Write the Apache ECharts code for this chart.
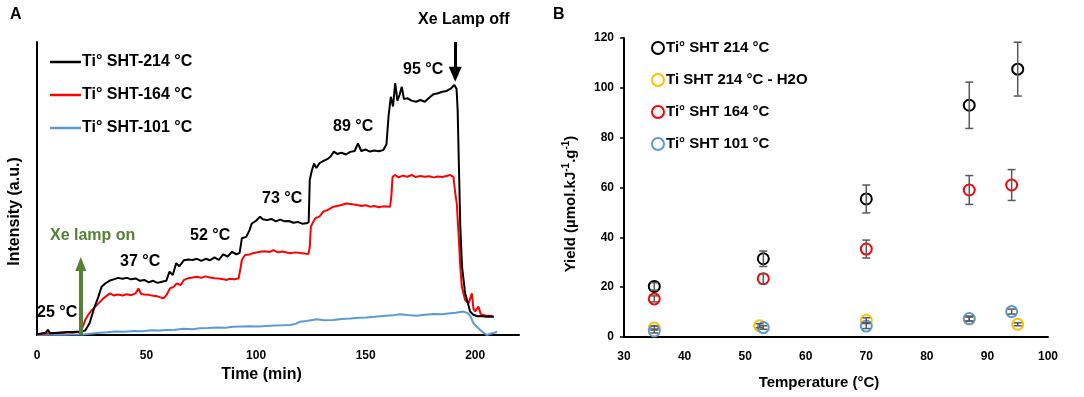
<!DOCTYPE html>
<html>
<head>
<meta charset="utf-8">
<script src="https://cdn.jsdelivr.net/npm/echarts@6.0.0/dist/echarts.min.js"></script>
<style>
html,body{margin:0;padding:0;background:#fff;}
#chart{width:1084px;height:397px;}
</style>
</head>
<body>
<div id="chart"></div>
<script>
// ---------- Panel A: intensity vs time ----------
const timeBlack = [0,2,4,5,6,8,10,12,14,16,18,20,22,24,26,28,29.5,31,33,35,37,39,41,43,45,47,49,51,53,55,57,59,60.5,62,63.5,65,67,69,71,73,75,77,79,81,83,85,87,89,91,92.5,93.5,95.5,97,98,100,101.8,103,105,107,109,111,113,115,117,119,121,123,124,124.5,125.5,126.5,127.5,129,131,132.5,134,135.5,137,139,141,143,145,146.5,148,150,152,154,156,158,159.5,160.5,161.5,162.5,163.5,164.5,165.5,166.5,167.5,169,171,173,175,177,179,181,183,185,187,189,190.5,191.5,192,192.5,193.2,194,195.4,197.7,199,201,203,205,207,208.5];
const intBlack = [0.3,0.5,0.8,1.8,0.6,0.7,0.8,0.9,1.0,1.0,1.1,1.2,1.5,4,9,13,16.5,17.5,18.5,19,19.5,19.2,19.5,19,19.3,18.5,18.8,18,18.5,17.8,18.2,18.5,21.6,20.5,24.5,23.5,25.5,25.8,25.6,26,25.3,26,25.5,26.5,25.6,27.5,26.8,28.4,27.5,28,33,33.5,35.8,38,39,40.4,39.5,39.2,39.6,38.8,39.4,38.8,38.9,38.3,38.6,38,38.1,38.5,52.9,56.3,58.5,57,58.7,59.5,60,60.9,62.6,61.8,62.2,61.6,62.5,62.8,65.4,62.8,63.3,62.6,63,62.7,63.1,65,75,81.3,78,86,80,82,84.7,80.5,80.8,80,79.6,80.2,79.6,81,82.2,82.5,83,83.3,84.2,85.3,84,76.8,60,37,23.3,14.3,8,7,6.4,6.5,6.2,6.3,6.2];

const timeRed = [0,2,4,6,8,10,12,14,16,18,19.6,21,22,23.5,25,27.3,30.3,33.3,35,37,39,41,43,45,46.3,47.5,49,51,53,55,57.7,59,60.7,62.5,63.8,65.5,67,69,71,73,75,77,79,81,83,85,86.6,88,90,92,92.7,93.5,95,97,99,101.8,104,106,107.9,110,112,115.5,118,121,123.9,124.5,125,126,127,129,130.7,133,135.3,138,141.4,144,146,148,150,152,154,156,158,161.2,161.8,162.3,163.5,165,167,169,171,173,175,177,179,181,183,185,188.6,190.1,190.9,191.6,192.4,193.2,193.9,195.4,197,198.5,199.2,200,201.5,202.5,203.8,205.5,207,208.4];
const intRed = [0.2,0.4,0.5,0.7,0.6,0.8,0.7,0.9,0.8,1.0,1.1,3,5.1,7,8.5,10.2,12.5,14.2,13.5,13.8,13.5,13.9,13.6,14.2,15.9,14,13.8,13.7,13.4,13.2,12.5,13.5,15.9,16.5,17.6,17,18.7,19.4,19.6,19.9,19.5,20,19.6,19.4,19.3,19,18.8,19.2,19,19.3,22,25.6,27.3,27.5,28,28.4,28.6,28.3,29,28.2,28.5,27.9,28.2,27.9,27.6,30,37,38.5,39.8,40.5,42.1,42.8,43.8,44.2,44.9,44.6,44.4,44,44.3,43.8,44,43.6,43.9,43.8,48,54,54.6,53.8,54.4,54,54.6,53.9,54.3,54,54.2,53.8,54.1,53.9,54.6,54,48.4,44.9,34.7,23.3,16.5,11.9,10.8,14.2,9,8,9.7,7.2,6.8,6.5,6.6,6.2];

const timeBlue = [0,4,8,12,16,21,25,28.8,32,36,40,44,48,52,56,59,63,67,71,74.4,78,82,86,89.6,93,97,101,104.9,108,112,115.5,118,120,123,127.7,131,135.2,139,143,147,150.5,154,158,162,165.8,169,173.4,177,181,185,188.6,191,194.7,196.8,198,199.2,200.8,202.3,203.8,205.3,206.8,208.5,210];
const intBlue = [0,0.1,0.2,0.1,0.2,0.2,0.5,0.8,0.9,1.2,1.1,1.4,1.3,1.6,1.5,1.7,1.8,2.1,2.0,2.3,2.4,2.6,2.5,2.8,2.9,3.0,2.9,3.1,3.2,3.3,3.4,3.8,4.5,4.8,5.4,5.0,5.1,5.5,5.6,5.9,6.0,6.2,6.5,6.7,7.1,6.8,6.6,6.9,7.2,7.1,7.4,7.6,8.0,7.4,6.2,4.0,2.8,1.7,0.8,0.0,0.4,0.7,1.1];

const timeTicksA = [0, 50, 100, 150, 200];
const stepLabels = ['25 °C', '37 °C', '52 °C', '73 °C', '89 °C', '95 °C'];

// ---------- Panel B: yield vs temperature ----------
const tempBlack = [35, 53, 70, 87, 95];
const yieldBlack = [20.3, 31.4, 55.4, 93, 107.5];
const errBlack = [1.5, 3.1, 5.6, 9.3, 10.8];

const tempYellow = [35, 52.4, 70, 87, 95];
const yieldYellow = [3.6, 4.5, 6.7, 7.2, 5.1];
const errYellow = [0.8, 0.8, 1.0, 0.8, 0.6];

const tempRed = [35, 53, 70, 87, 94];
const yieldRed = [15.3, 23.4, 35.3, 59, 61];
const errRed = [1.2, 2.0, 3.6, 5.8, 6.2];

const tempBlue = [35, 53, 70, 87, 94];
const yieldBlue = [2.4, 3.8, 4.4, 7.4, 10.2];
const errBlue = [0.8, 0.7, 1.0, 1.0, 1.0];

const FONT = 'Liberation Sans';

function zip(xs, ys) { return xs.map((x, i) => [x, ys[i]]); }
function errData(xs, ys, es) { return xs.map((x, i) => [x, ys[i] - es[i], ys[i] + es[i]]); }

const chart = echarts.init(document.getElementById('chart'), null, {renderer: 'canvas'});

function errSeries(xs, ys, es) {
  return {
    type: 'custom',
    xAxisIndex: 1, yAxisIndex: 1,
    z: 5,
    silent: true,
    encode: {x: 0, y: [1, 2]},
    data: errData(xs, ys, es),
    renderItem: function (params, api) {
      const x = api.value(0);
      const lo = api.coord([x, api.value(1)]);
      const hi = api.coord([x, api.value(2)]);
      const cap = 4;
      const st = {stroke: '#595959', lineWidth: 1.5};
      return {
        type: 'group',
        children: [
          {type: 'line', shape: {x1: lo[0], y1: lo[1], x2: hi[0], y2: hi[1]}, style: st},
          {type: 'line', shape: {x1: lo[0] - cap, y1: lo[1], x2: lo[0] + cap, y2: lo[1]}, style: st},
          {type: 'line', shape: {x1: hi[0] - cap, y1: hi[1], x2: hi[0] + cap, y2: hi[1]}, style: st}
        ]
      };
    }
  };
}

function scatterSeries(name, color, xs, ys) {
  return {
    name: name,
    type: 'scatter',
    xAxisIndex: 1, yAxisIndex: 1,
    symbol: 'emptyCircle',
    symbolSize: 11,
    z: 3,
    itemStyle: {color: color, borderColor: color, borderWidth: 2.5, opacity: 1},
    data: zip(xs, ys)
  };
}

const textEl = (txt, x, y, color) => ({
  type: 'text', x: x, y: y, silent: true,
  style: {text: txt, fill: color || '#000', font: 'bold 16px "' + FONT + '"',
          textAlign: 'left', textVerticalAlign: 'middle', align: 'left', verticalAlign: 'middle'}
});

const option = {
  animation: false,
  backgroundColor: '#fff',
  textStyle: {fontFamily: FONT},
  grid: [
    {left: 37, right: 565, top: 42, bottom: 62},
    {left: 624, right: 36, top: 38, bottom: 60}
  ],
  legend: [
    {
      left: 50, top: 54, orient: 'vertical', padding: 0,
      icon: 'rect',
      itemWidth: 31, itemHeight: 2.5, itemGap: 17,
      selectedMode: false,
      textStyle: {fontFamily: FONT, fontWeight: 'bold', fontSize: 16, color: '#000', lineHeight: 16, padding: [0, 0, 0, -4]},
      data: ['Ti° SHT-214 °C', 'Ti° SHT-164 °C', 'Ti° SHT-101 °C']
    },
    {
      left: 651, top: 40, orient: 'vertical', padding: 0,
      itemWidth: 12, itemHeight: 12, itemGap: 16,
      selectedMode: false,
      itemStyle: {borderWidth: 2.5, opacity: 1},
      textStyle: {fontFamily: FONT, fontWeight: 'bold', fontSize: 15, color: '#000', lineHeight: 16, padding: [0, 0, 0, -3]},
      data: ['Ti° SHT 214 °C', 'Ti SHT 214 °C - H2O', 'Ti° SHT 164 °C', 'Ti° SHT 101 °C']
    }
  ],
  xAxis: [
    {
      type: 'value', gridIndex: 0, min: 0, max: 220, interval: 50,
      name: 'Time (min)', nameLocation: 'middle', nameGap: 32,
      nameTextStyle: {fontFamily: FONT, fontWeight: 'bold', fontSize: 16, color: '#000', padding: [0, 33, 0, 0]},
      axisLine: {lineStyle: {color: '#000', width: 2}},
      axisTick: {show: false},
      splitLine: {show: false},
      axisLabel: {
        margin: 15, color: '#000', fontWeight: 'bold', fontSize: 12, fontFamily: FONT,
        formatter: v => (timeTicksA.indexOf(v) >= 0 ? String(v) : '')
      }
    },
    {
      type: 'value', gridIndex: 1, min: 30, max: 100, interval: 10,
      name: 'Temperature (°C)', nameLocation: 'middle', nameGap: 38,
      nameTextStyle: {fontFamily: FONT, fontWeight: 'bold', fontSize: 15, color: '#000', padding: [0, 34, 0, 0]},
      axisLine: {onZero: false, lineStyle: {color: '#000', width: 2}},
      axisTick: {show: false},
      splitLine: {show: false},
      axisLabel: {margin: 14, color: '#000', fontWeight: 'bold', fontSize: 12, fontFamily: FONT}
    }
  ],
  yAxis: [
    {
      type: 'value', gridIndex: 0, min: 0, max: 100,
      name: 'Intensity (a.u.)', nameLocation: 'middle', nameGap: 14,
      nameTextStyle: {fontFamily: FONT, fontWeight: 'bold', fontSize: 16, color: '#000', padding: [0, 46, 0, 0]},
      axisLine: {show: true, lineStyle: {color: '#000', width: 2}},
      axisTick: {show: false},
      axisLabel: {show: false},
      splitLine: {show: false}
    },
    {
      type: 'value', gridIndex: 1, min: 0, max: 120, interval: 20,
      name: '{a|Yield (µmol.kJ}{s|-1}{a|.g}{s|-1}{a|)}',
      nameLocation: 'middle', nameGap: 43,
      nameTextStyle: {
        fontFamily: FONT, fontWeight: 'bold', fontSize: 15, color: '#000', padding: [0, 33, 0, 0],
        rich: {
          a: {fontFamily: FONT, fontWeight: 'bold', fontSize: 15, color: '#000', lineHeight: 20, verticalAlign: 'middle'},
          s: {fontFamily: FONT, fontWeight: 'bold', fontSize: 10, color: '#000', lineHeight: 10, verticalAlign: 'top'}
        }
      },
      axisLine: {show: true, lineStyle: {color: '#000', width: 2}},
      axisTick: {show: true, length: 4, lineStyle: {color: '#000', width: 1.5}},
      axisLabel: {margin: 10, color: '#000', fontWeight: 'bold', fontSize: 12, fontFamily: FONT},
      splitLine: {show: false}
    }
  ],
  series: [
    {
      name: 'Ti° SHT-101 °C', type: 'line', xAxisIndex: 0, yAxisIndex: 0,
      showSymbol: false, symbol: 'none',
      lineStyle: {color: '#5B9BD5', width: 2}, itemStyle: {color: '#5B9BD5'},
      data: zip(timeBlue, intBlue),
      markLine: {
        silent: true, animation: false,
        label: {show: false},
        data: [
          [
            {coord: [20, 0], symbol: 'none', lineStyle: {color: '#548235', width: 4, type: 'solid'}},
            {coord: [20, 24.2], symbol: 'triangle', symbolSize: [11, 14]}
          ],
          [
            {coord: [190.9, 100], symbol: 'none', lineStyle: {color: '#000', width: 3, type: 'solid'}},
            {coord: [190.9, 89], symbol: 'triangle', symbolSize: [13, 15]}
          ]
        ]
      }
    },
    {
      name: 'Ti° SHT-164 °C', type: 'line', xAxisIndex: 0, yAxisIndex: 0,
      showSymbol: false, symbol: 'none',
      lineStyle: {color: '#FF0000', width: 2}, itemStyle: {color: '#FF0000'},
      data: zip(timeRed, intRed)
    },
    {
      name: 'Ti° SHT-214 °C', type: 'line', xAxisIndex: 0, yAxisIndex: 0,
      showSymbol: false, symbol: 'none',
      lineStyle: {color: '#000000', width: 2}, itemStyle: {color: '#000000'},
      data: zip(timeBlack, intBlack)
    },
    scatterSeries('Ti° SHT 214 °C', '#000000', tempBlack, yieldBlack),
    scatterSeries('Ti SHT 214 °C - H2O', '#FFC000', tempYellow, yieldYellow),
    scatterSeries('Ti° SHT 164 °C', '#FF0000', tempRed, yieldRed),
    scatterSeries('Ti° SHT 101 °C', '#5B9BD5', tempBlue, yieldBlue),
    errSeries(tempBlack, yieldBlack, errBlack),
    errSeries(tempYellow, yieldYellow, errYellow),
    errSeries(tempRed, yieldRed, errRed),
    errSeries(tempBlue, yieldBlue, errBlue)
  ],
  graphic: [
    textEl('A', 10, 15),
    textEl('B', 553, 15),
    textEl('Xe Lamp off', 418, 20),
    textEl(stepLabels[5], 403, 70),
    textEl(stepLabels[4], 333, 127),
    textEl(stepLabels[3], 262, 199),
    textEl(stepLabels[2], 190, 236),
    textEl(stepLabels[1], 120, 262),
    textEl(stepLabels[0], 37, 313),
    textEl('Xe lamp on', 50, 236, '#548235')
  ]
};
chart.setOption(option);
</script>
</body>
</html>
